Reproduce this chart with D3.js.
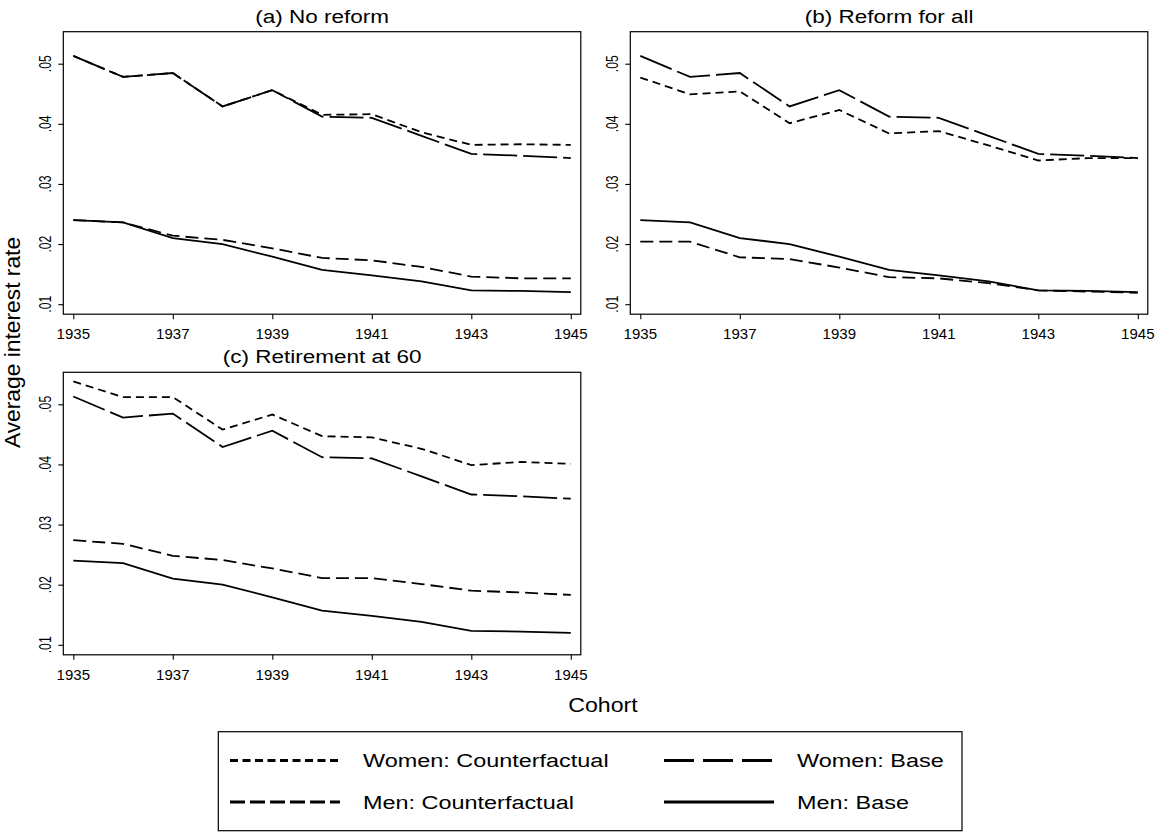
<!DOCTYPE html>
<html>
<head>
<meta charset="utf-8">
<script src="https://cdn.jsdelivr.net/npm/d3@7"></script>
<style>
  body { margin: 0; background: #fff; }
  svg { display: block; font-family: "Liberation Sans", Arial, sans-serif; }
</style>
</head>
<body>
<div id="chart"></div>
<script>
// cohort years and axis ticks
const years = [1935, 1936, 1937, 1938, 1939, 1940, 1941, 1942, 1943, 1944, 1945];
const xTicks = [1935, 1937, 1939, 1941, 1943, 1945];
const yTicks = [0.01, 0.02, 0.03, 0.04, 0.05];
const yTickLabels = ['.01', '.02', '.03', '.04', '.05'];

// base scenario is the same in every panel
const womenBase = [0.0513, 0.0478, 0.04845, 0.0429, 0.0456, 0.0412, 0.0410, 0.0380, 0.0350, 0.0347, 0.0343];
const menBase   = [0.0240, 0.0236, 0.0210, 0.0200, 0.0179, 0.0157, 0.0148, 0.0138, 0.0123, 0.0122, 0.0120];

// counterfactuals per panel
const womenCfA = [0.0513, 0.0478, 0.04845, 0.0429, 0.0456, 0.0415, 0.0416, 0.0386, 0.0365, 0.0366, 0.0365];
const menCfA   = [0.0240, 0.0236, 0.0214, 0.0207, 0.0193, 0.0177, 0.0173, 0.0162, 0.0146, 0.0143, 0.0143];
const womenCfB = [0.0477, 0.0449, 0.0454, 0.0401, 0.0423, 0.0384, 0.0388, 0.0364, 0.0339, 0.0343, 0.0343];
const menCfB   = [0.0204, 0.0204, 0.0178, 0.0175, 0.0161, 0.0145, 0.0143, 0.0135, 0.0123, 0.0121, 0.0119];
const womenCfC = [0.0538, 0.0512, 0.0512, 0.0458, 0.0483, 0.0447, 0.0445, 0.0426, 0.0399, 0.0404, 0.0401];
const menCfC   = [0.0274, 0.0268, 0.0248, 0.0241, 0.0227, 0.0211, 0.0211, 0.0201, 0.0190, 0.0187, 0.0183];

const panelTitles = ['(a) No reform', '(b) Reform for all', '(c) Retirement at 60'];
const seriesNames = ['Women: Counterfactual', 'Women: Base', 'Men: Counterfactual', 'Men: Base'];

const W = 1158, H = 833;

// line styles (plot dash, legend dash)
const STYLES = {
  'Women: Counterfactual': { dash: '8,5', legDash: '8,4.5' },
  'Women: Base': { dash: '34,6', legDash: '30,9' },
  'Men: Counterfactual': { dash: '13,6', legDash: '15,5' },
  'Men: Base': { dash: null, legDash: null }
};

const svg = d3.select('#chart').append('svg')
  .attr('width', W).attr('height', H)
  .attr('viewBox', [0, 0, W, H]);

// text with an optional horizontal stretch, as in the original export
function txt(g, x, y, s, size, sx, rotate, anchor) {
  return g.append('text')
    .attr('transform', `translate(${x},${y}) scale(${sx},1)` + (rotate ? ' rotate(-90)' : ''))
    .attr('font-size', size)
    .attr('text-anchor', anchor || 'middle')
    .attr('fill', '#000')
    .text(s);
}

const panels = [
  { title: panelTitles[0], left: 63.3, top: 31.7, wc: womenCfA, mc: menCfA },
  { title: panelTitles[1], left: 630.3, top: 31.7, wc: womenCfB, mc: menCfB },
  { title: panelTitles[2], left: 63.3, top: 372.3, wc: womenCfC, mc: menCfC }
];
const pw = 517.5, ph = 282.5;

panels.forEach(p => {
  const g = svg.append('g');
  const x = d3.scaleLinear().domain([1935, 1945]).range([p.left + 10, p.left + pw - 10]);
  const y = d3.scaleLinear().domain([0.01, 0.05]).range([p.top + 272.5, p.top + 32]);

  g.append('rect')
    .attr('x', p.left).attr('y', p.top)
    .attr('width', pw).attr('height', ph)
    .attr('fill', 'none').attr('stroke', '#000').attr('stroke-width', 1.2);

  // x axis
  const xa = g.append('g')
    .attr('transform', `translate(0,${p.top + ph})`)
    .call(d3.axisBottom(x).tickValues(xTicks).tickSize(5).tickFormat(''));
  xa.select('.domain').remove();
  xa.selectAll('line').attr('stroke', '#000').attr('stroke-width', 1.1);
  xTicks.forEach(t => txt(g, x(t), p.top + ph + 25, String(t), 15, 1.0, false));

  // y axis
  const ya = g.append('g')
    .attr('transform', `translate(${p.left},0)`)
    .call(d3.axisLeft(y).tickValues(yTicks).tickSize(5).tickFormat(''));
  ya.select('.domain').remove();
  ya.selectAll('line').attr('stroke', '#000').attr('stroke-width', 1.1);
  yTicks.forEach((t, i) => txt(g, p.left - 12.6, y(t), yTickLabels[i], 12.2, 1.35, true));

  // panel title
  txt(g, p.left + pw / 2, p.top - 9, p.title, 18, 1.25, false);

  const line = d3.line().x((d, i) => x(years[i])).y(d => y(d));
  const series = [
    { name: 'Women: Counterfactual', values: p.wc },
    { name: 'Men: Counterfactual', values: p.mc },
    { name: 'Women: Base', values: womenBase },
    { name: 'Men: Base', values: menBase }
  ];
  g.selectAll('path.series')
    .data(series)
    .join('path')
    .attr('class', 'series')
    .attr('d', d => line(d.values))
    .attr('fill', 'none')
    .attr('stroke', '#000')
    .attr('stroke-width', 1.8)
    .attr('stroke-dasharray', d => STYLES[d.name].dash);
});

// shared axis titles
txt(svg, 20, 342.5, 'Average interest rate', 22.8, 1.0, true);
txt(svg, 603, 712, 'Cohort', 21, 1.1, false);

// legend
const leg = svg.append('g');
leg.append('rect')
  .attr('x', 218.3).attr('y', 731.7)
  .attr('width', 743.7).attr('height', 99)
  .attr('fill', 'none').attr('stroke', '#000').attr('stroke-width', 1.2);

const legPos = [
  { x: 230, y: 760.5 }, { x: 664, y: 760.5 },
  { x: 230, y: 802 }, { x: 664, y: 802 }
];
seriesNames.forEach((name, i) => {
  const pos = legPos[i];
  leg.append('line')
    .attr('x1', pos.x).attr('x2', pos.x + 110)
    .attr('y1', pos.y).attr('y2', pos.y)
    .attr('stroke', '#000').attr('stroke-width', 3)
    .attr('stroke-dasharray', STYLES[name].legDash);
  txt(leg, pos.x + 133, pos.y + 6.8, name, 18.6, 1.26, false, 'start');
});
</script>
</body>
</html>
